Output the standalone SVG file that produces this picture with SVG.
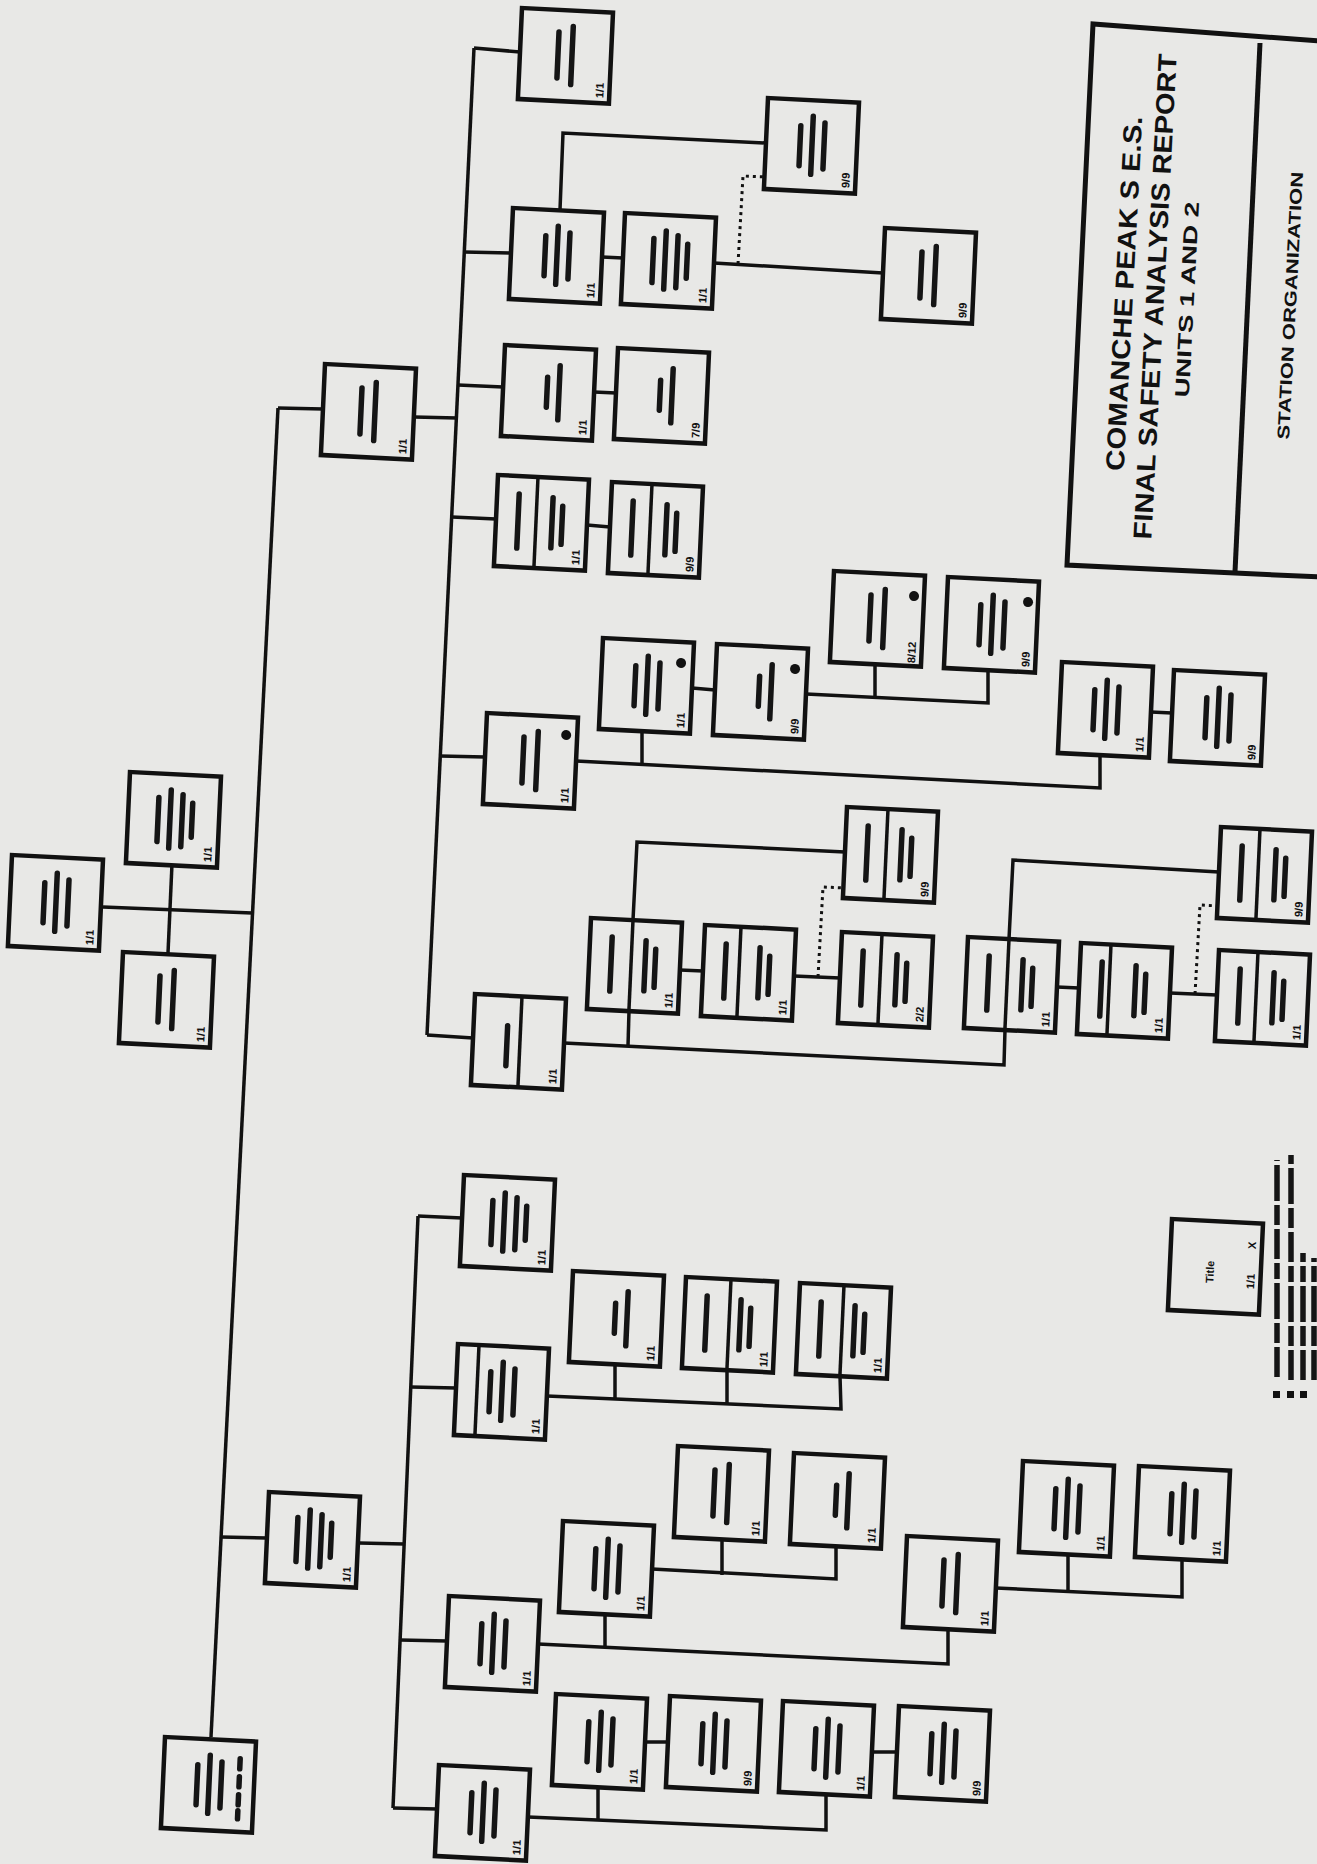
<svg xmlns="http://www.w3.org/2000/svg" xmlns:xlink="http://www.w3.org/1999/xlink" width="1317" height="1864" viewBox="0 0 1317 1864">
<style>
.bg{fill:#e8e8e6}
.box{fill:none;stroke:#111;stroke-width:4.5}
.dv{stroke:#111;stroke-width:3.5}
.ln{fill:none;stroke:#111;stroke-width:3.5}
.dt{fill:none;stroke:#111;stroke-width:3;stroke-dasharray:3 4}
.sm{fill:none;stroke:#151515;stroke-width:5.5;stroke-linecap:round}
.lg{fill:none;stroke:#151515;stroke-width:5.5;stroke-dasharray:30 4 20 4 36 4 16 4}
.dot{fill:#111}
.lbl{font-family:"Liberation Sans",Arial,sans-serif;font-size:11px;font-weight:bold;fill:#111}
.ttl{font-family:"Liberation Sans",Arial,sans-serif;font-weight:bold;fill:#111;text-anchor:middle}
.frame{fill:none;stroke:#111;stroke-width:5}
</style>
<defs>
<path id="v1" class="sm" d="M44 30V60M56 18V72"/>
<path id="v2" class="sm" d="M38 22V68M52 16V74"/>
<path id="v3" class="sm" d="M34 26V66M46 16V74M58 22V68"/>
<path id="v4" class="sm" d="M30 24V68M42 16V74M54 20V72M64 28V62"/>
<path id="vd" class="sm" d="M22 18V72M56 20V70M66 28V66"/>
<rect id="bx" class="box" width="91" height="91"/>
</defs>
<rect class="bg" x="0" y="0" width="1317" height="1864"/>

<g id="connectors">
<path class="ln" d="M278 408L211 1737"/>
<path class="ln" d="M278 408L323 409"/>
<path class="ln" d="M103 907L252 913"/>
<path class="ln" d="M172 864L168 953"/>
<path class="ln" d="M221 1537L267 1538"/>
<path class="ln" d="M474 48L427 1035"/>
<path class="ln" d="M474 48L520 52"/>
<path class="ln" d="M414 417L457 418"/>
<path class="ln" d="M464 252L511 253"/>
<path class="ln" d="M458 385L503 387"/>
<path class="ln" d="M452 517L496 519"/>
<path class="ln" d="M440 756L485 757"/>
<path class="ln" d="M427 1035L473 1038"/>
<path class="ln" d="M602 257L623 258"/>
<path class="ln" d="M560 210L563 133L766 143"/>
<path class="ln" d="M714 263L883 273"/>
<path class="dt" d="M738 264L743 176L766 177"/>
<path class="ln" d="M594 392L616 393"/>
<path class="ln" d="M587 525L610 527"/>
<path class="ln" d="M576 761L1100 788L1100 755"/>
<path class="ln" d="M642 764L642 731"/>
<path class="ln" d="M692 688L715 690"/>
<path class="ln" d="M806 694L988 703L988 670"/>
<path class="ln" d="M875 698L875 664"/>
<path class="ln" d="M1151 712L1172 713"/>
<path class="ln" d="M564 1043L1004 1065L1005 1030"/>
<path class="ln" d="M628 1046L629 1011"/>
<path class="ln" d="M633 920L637 842L845 852"/>
<path class="ln" d="M680 970L703 971"/>
<path class="ln" d="M794 976L840 978"/>
<path class="dt" d="M818 977L823 887L845 888"/>
<path class="ln" d="M1009 939L1013 860L1219 872"/>
<path class="ln" d="M1057 987L1079 988"/>
<path class="ln" d="M1170 993L1217 995"/>
<path class="dt" d="M1195 994L1200 905L1219 906"/>
<path class="ln" d="M418 1216L393 1808"/>
<path class="ln" d="M418 1216L462 1218"/>
<path class="ln" d="M411 1387L456 1388"/>
<path class="ln" d="M359 1543L404 1544"/>
<path class="ln" d="M400 1640L447 1641"/>
<path class="ln" d="M393 1808L437 1809"/>
<path class="ln" d="M547 1396L841 1409L840 1376"/>
<path class="ln" d="M615 1399L615 1364"/>
<path class="ln" d="M727 1404L727 1370"/>
<path class="ln" d="M538 1644L948 1664L948 1629"/>
<path class="ln" d="M605 1647L605 1614"/>
<path class="ln" d="M652 1569L836 1579L836 1546"/>
<path class="ln" d="M722 1575L722 1539"/>
<path class="ln" d="M996 1588L1182 1597L1182 1560"/>
<path class="ln" d="M1068 1591L1068 1554"/>
<path class="ln" d="M528 1817L826 1830L826 1794"/>
<path class="ln" d="M598 1820L598 1787"/>
<path class="ln" d="M645 1742L668 1742"/>
<path class="ln" d="M872 1752L897 1752"/>
</g>

<g id="title-block">
<path class="frame" d="M1320 41L1093 24L1067 565L1320 577"/>
<path class="frame" d="M1260 43L1235 572"/>
<text class="ttl" font-size="26" textLength="355" lengthAdjust="spacingAndGlyphs" transform="translate(1133 294) rotate(-87)">COMANCHE PEAK S E.S.</text>
<text class="ttl" font-size="26" textLength="486" lengthAdjust="spacingAndGlyphs" transform="translate(1164 297) rotate(-87)">FINAL SAFETY ANALYSIS REPORT</text>
<text class="ttl" font-size="20" textLength="196" lengthAdjust="spacingAndGlyphs" transform="translate(1194 300) rotate(-87)">UNITS 1 AND 2</text>
<text class="ttl" font-size="17" textLength="268" lengthAdjust="spacingAndGlyphs" transform="translate(1296 306) rotate(-87)">STATION ORGANIZATION</text>
</g>

<g id="n_T1" transform="translate(12 855) matrix(1 .05 -.045 1 0 0)"><use href="#bx"/><use href="#v3"/><text class="lbl" transform="translate(85 86) rotate(-90)">1/1</text></g>
<g id="n_T2" transform="translate(130 772) matrix(1 .05 -.045 1 0 0)"><use href="#bx"/><use href="#v4"/><text class="lbl" transform="translate(85 86) rotate(-90)">1/1</text></g>
<g id="n_T3" transform="translate(123 952) matrix(1 .05 -.045 1 0 0)"><use href="#bx"/><use href="#v2"/><text class="lbl" transform="translate(85 86) rotate(-90)">1/1</text></g>
<g id="n_S1" transform="translate(325 364) matrix(1 .05 -.045 1 0 0)"><use href="#bx"/><use href="#v2"/><text class="lbl" transform="translate(85 86) rotate(-90)">1/1</text></g>
<g id="n_S2" transform="translate(269 1492) matrix(1 .05 -.045 1 0 0)"><use href="#bx"/><use href="#v4"/><text class="lbl" transform="translate(85 86) rotate(-90)">1/1</text></g>
<g id="n_BL" transform="translate(165 1737) matrix(1 .05 -.045 1 0 0)"><use href="#bx"/><use href="#v3"/><path class="sm" d="M76 18V28M76 36V46M76 54V64M76 70V78"/></g>

<g id="n_A" transform="translate(522 8) matrix(1 .05 -.045 1 0 0)"><use href="#bx"/><use href="#v2"/><text class="lbl" transform="translate(85 86) rotate(-90)">1/1</text></g>
<g id="n_B" transform="translate(513 208) matrix(1 .05 -.045 1 0 0)"><use href="#bx"/><use href="#v3"/><text class="lbl" transform="translate(85 86) rotate(-90)">1/1</text></g>
<g id="n_C" transform="translate(625 213) matrix(1 .05 -.045 1 0 0)"><use href="#bx"/><use href="#v4"/><text class="lbl" transform="translate(85 86) rotate(-90)">1/1</text></g>
<g id="n_D" transform="translate(768 98) matrix(1 .05 -.045 1 0 0)"><use href="#bx"/><use href="#v3"/><text class="lbl" transform="translate(85 86) rotate(-90)">9/9</text></g>
<g id="n_E" transform="translate(885 228) matrix(1 .05 -.045 1 0 0)"><use href="#bx"/><use href="#v2"/><text class="lbl" transform="translate(85 86) rotate(-90)">9/9</text></g>
<g id="n_c1" transform="translate(505 345) matrix(1 .05 -.045 1 0 0)"><use href="#bx"/><use href="#v1"/><text class="lbl" transform="translate(85 86) rotate(-90)">1/1</text></g>
<g id="n_c2" transform="translate(618 348) matrix(1 .05 -.045 1 0 0)"><use href="#bx"/><use href="#v1"/><text class="lbl" transform="translate(85 86) rotate(-90)">7/9</text></g>
<g id="n_d1" transform="translate(498 475) matrix(1 .05 -.045 1 0 0)"><use href="#bx"/><line class="dv" x1="40" y1="0" x2="40" y2="91"/><use href="#vd"/><text class="lbl" transform="translate(85 86) rotate(-90)">1/1</text></g>
<g id="n_d2" transform="translate(612 482) matrix(1 .05 -.045 1 0 0)"><use href="#bx"/><line class="dv" x1="40" y1="0" x2="40" y2="91"/><use href="#vd"/><text class="lbl" transform="translate(85 86) rotate(-90)">9/9</text></g>

<g id="n_em" transform="translate(487 713) matrix(1 .05 -.045 1 0 0)"><use href="#bx"/><use href="#v2"/><circle class="dot" cx="80" cy="18" r="5"/><text class="lbl" transform="translate(85 86) rotate(-90)">1/1</text></g>
<g id="n_e1" transform="translate(603 638) matrix(1 .05 -.045 1 0 0)"><use href="#bx"/><use href="#v3"/><circle class="dot" cx="79" cy="21" r="5"/><text class="lbl" transform="translate(85 86) rotate(-90)">1/1</text></g>
<g id="n_e2" transform="translate(717 644) matrix(1 .05 -.045 1 0 0)"><use href="#bx"/><use href="#v1"/><circle class="dot" cx="79" cy="21" r="5"/><text class="lbl" transform="translate(85 86) rotate(-90)">9/9</text></g>
<g id="n_e3" transform="translate(834 571) matrix(1 .05 -.045 1 0 0)"><use href="#bx"/><use href="#v2"/><circle class="dot" cx="81" cy="21" r="5"/><text class="lbl" transform="translate(85 88) rotate(-90)">8/12</text></g>
<g id="n_e4" transform="translate(948 577) matrix(1 .05 -.045 1 0 0)"><use href="#bx"/><use href="#v3"/><circle class="dot" cx="81" cy="21" r="5"/><text class="lbl" transform="translate(85 86) rotate(-90)">9/9</text></g>
<g id="n_e5" transform="translate(1062 662) matrix(1 .05 -.045 1 0 0)"><use href="#bx"/><use href="#v3"/><text class="lbl" transform="translate(85 86) rotate(-90)">1/1</text></g>
<g id="n_e6" transform="translate(1174 670) matrix(1 .05 -.045 1 0 0)"><use href="#bx"/><use href="#v3"/><text class="lbl" transform="translate(85 86) rotate(-90)">9/9</text></g>

<g id="n_fm" transform="translate(475 994) matrix(1 .05 -.045 1 0 0)"><use href="#bx"/><line class="dv" x1="47" y1="0" x2="47" y2="91"/><path class="sm" d="M34 30V70"/><text class="lbl" transform="translate(85 86) rotate(-90)">1/1</text></g>
<g id="n_f1" transform="translate(591 918) matrix(1 .05 -.045 1 0 0)"><use href="#bx"/><line class="dv" x1="42" y1="0" x2="42" y2="91"/><use href="#vd"/><text class="lbl" transform="translate(85 86) rotate(-90)">1/1</text></g>
<g id="n_f2" transform="translate(705 925) matrix(1 .05 -.045 1 0 0)"><use href="#bx"/><line class="dv" x1="36" y1="0" x2="36" y2="91"/><use href="#vd"/><text class="lbl" transform="translate(85 86) rotate(-90)">1/1</text></g>
<g id="n_f3" transform="translate(842 932) matrix(1 .05 -.045 1 0 0)"><use href="#bx"/><line class="dv" x1="40" y1="0" x2="40" y2="91"/><use href="#vd"/><text class="lbl" transform="translate(85 86) rotate(-90)">2/2</text></g>
<g id="n_fu1" transform="translate(847 807) matrix(1 .05 -.045 1 0 0)"><use href="#bx"/><line class="dv" x1="41" y1="0" x2="41" y2="91"/><use href="#vd"/><text class="lbl" transform="translate(85 86) rotate(-90)">9/9</text></g>
<g id="n_f4" transform="translate(968 937) matrix(1 .05 -.045 1 0 0)"><use href="#bx"/><line class="dv" x1="41" y1="0" x2="41" y2="91"/><use href="#vd"/><text class="lbl" transform="translate(85 86) rotate(-90)">1/1</text></g>
<g id="n_f5" transform="translate(1081 943) matrix(1 .05 -.045 1 0 0)"><use href="#bx"/><line class="dv" x1="30" y1="0" x2="30" y2="91"/><use href="#vd"/><text class="lbl" transform="translate(85 86) rotate(-90)">1/1</text></g>
<g id="n_f6" transform="translate(1219 950) matrix(1 .05 -.045 1 0 0)"><use href="#bx"/><line class="dv" x1="39" y1="0" x2="39" y2="91"/><use href="#vd"/><text class="lbl" transform="translate(85 86) rotate(-90)">1/1</text></g>
<g id="n_fu2" transform="translate(1221 827) matrix(1 .05 -.045 1 0 0)"><use href="#bx"/><line class="dv" x1="39" y1="0" x2="39" y2="91"/><use href="#vd"/><text class="lbl" transform="translate(85 86) rotate(-90)">9/9</text></g>

<g id="n_g" transform="translate(464 1175) matrix(1 .05 -.045 1 0 0)"><use href="#bx"/><use href="#v4"/><text class="lbl" transform="translate(85 86) rotate(-90)">1/1</text></g>
<g id="n_hm" transform="translate(458 1344) matrix(1 .05 -.045 1 0 0)"><use href="#bx"/><line class="dv" x1="21" y1="0" x2="21" y2="91"/><use href="#v3"/><text class="lbl" transform="translate(85 86) rotate(-90)">1/1</text></g>
<g id="n_h1" transform="translate(573 1271) matrix(1 .05 -.045 1 0 0)"><use href="#bx"/><use href="#v1"/><text class="lbl" transform="translate(85 86) rotate(-90)">1/1</text></g>
<g id="n_h2" transform="translate(686 1277) matrix(1 .05 -.045 1 0 0)"><use href="#bx"/><line class="dv" x1="45" y1="0" x2="45" y2="91"/><use href="#vd"/><text class="lbl" transform="translate(85 86) rotate(-90)">1/1</text></g>
<g id="n_h3" transform="translate(800 1283) matrix(1 .05 -.045 1 0 0)"><use href="#bx"/><line class="dv" x1="44" y1="0" x2="44" y2="91"/><use href="#vd"/><text class="lbl" transform="translate(85 86) rotate(-90)">1/1</text></g>
<g id="n_im" transform="translate(449 1596) matrix(1 .05 -.045 1 0 0)"><use href="#bx"/><use href="#v3"/><text class="lbl" transform="translate(85 86) rotate(-90)">1/1</text></g>
<g id="n_i1" transform="translate(563 1521) matrix(1 .05 -.045 1 0 0)"><use href="#bx"/><use href="#v3"/><text class="lbl" transform="translate(85 86) rotate(-90)">1/1</text></g>
<g id="n_i2" transform="translate(678 1446) matrix(1 .05 -.045 1 0 0)"><use href="#bx"/><use href="#v2"/><text class="lbl" transform="translate(85 86) rotate(-90)">1/1</text></g>
<g id="n_i3" transform="translate(794 1453) matrix(1 .05 -.045 1 0 0)"><use href="#bx"/><use href="#v1"/><text class="lbl" transform="translate(85 86) rotate(-90)">1/1</text></g>
<g id="n_i4" transform="translate(907 1536) matrix(1 .05 -.045 1 0 0)"><use href="#bx"/><use href="#v2"/><text class="lbl" transform="translate(85 86) rotate(-90)">1/1</text></g>
<g id="n_i5" transform="translate(1023 1461) matrix(1 .05 -.045 1 0 0)"><use href="#bx"/><use href="#v3"/><text class="lbl" transform="translate(85 86) rotate(-90)">1/1</text></g>
<g id="n_i6" transform="translate(1139 1466) matrix(1 .05 -.045 1 0 0)"><use href="#bx"/><use href="#v3"/><text class="lbl" transform="translate(85 86) rotate(-90)">1/1</text></g>
<g id="n_jm" transform="translate(439 1765) matrix(1 .05 -.045 1 0 0)"><use href="#bx"/><use href="#v3"/><text class="lbl" transform="translate(85 86) rotate(-90)">1/1</text></g>
<g id="n_j1" transform="translate(556 1694) matrix(1 .05 -.045 1 0 0)"><use href="#bx"/><use href="#v3"/><text class="lbl" transform="translate(85 86) rotate(-90)">1/1</text></g>
<g id="n_j2" transform="translate(670 1696) matrix(1 .05 -.045 1 0 0)"><use href="#bx"/><use href="#v3"/><text class="lbl" transform="translate(85 86) rotate(-90)">9/9</text></g>
<g id="n_j3" transform="translate(783 1701) matrix(1 .05 -.045 1 0 0)"><use href="#bx"/><use href="#v3"/><text class="lbl" transform="translate(85 86) rotate(-90)">1/1</text></g>
<g id="n_j4" transform="translate(899 1706) matrix(1 .05 -.045 1 0 0)"><use href="#bx"/><use href="#v3"/><text class="lbl" transform="translate(85 86) rotate(-90)">9/9</text></g>

<g id="legend">
<g id="n_legend" transform="translate(1172 1219) matrix(1 .05 -.045 1 0 0)"><use href="#bx"/><text class="lbl" font-size="12" transform="translate(44 62) rotate(-90)">Title</text><text class="lbl" transform="translate(85 66) rotate(-90)">1/1</text><text class="lbl" transform="translate(85 26) rotate(-90)">X</text></g>
<path class="lg" d="M1277 1377V1160"/>
<path class="lg" d="M1291 1380V1155"/>
<path class="lg" d="M1303 1380V1253"/>
<path class="lg" d="M1314 1380V1258"/>
<path class="dot" d="M1273 1391h7v7h-7zM1287 1391h7v7h-7zM1300 1391h7v7h-7z"/>
</g>
</svg>
